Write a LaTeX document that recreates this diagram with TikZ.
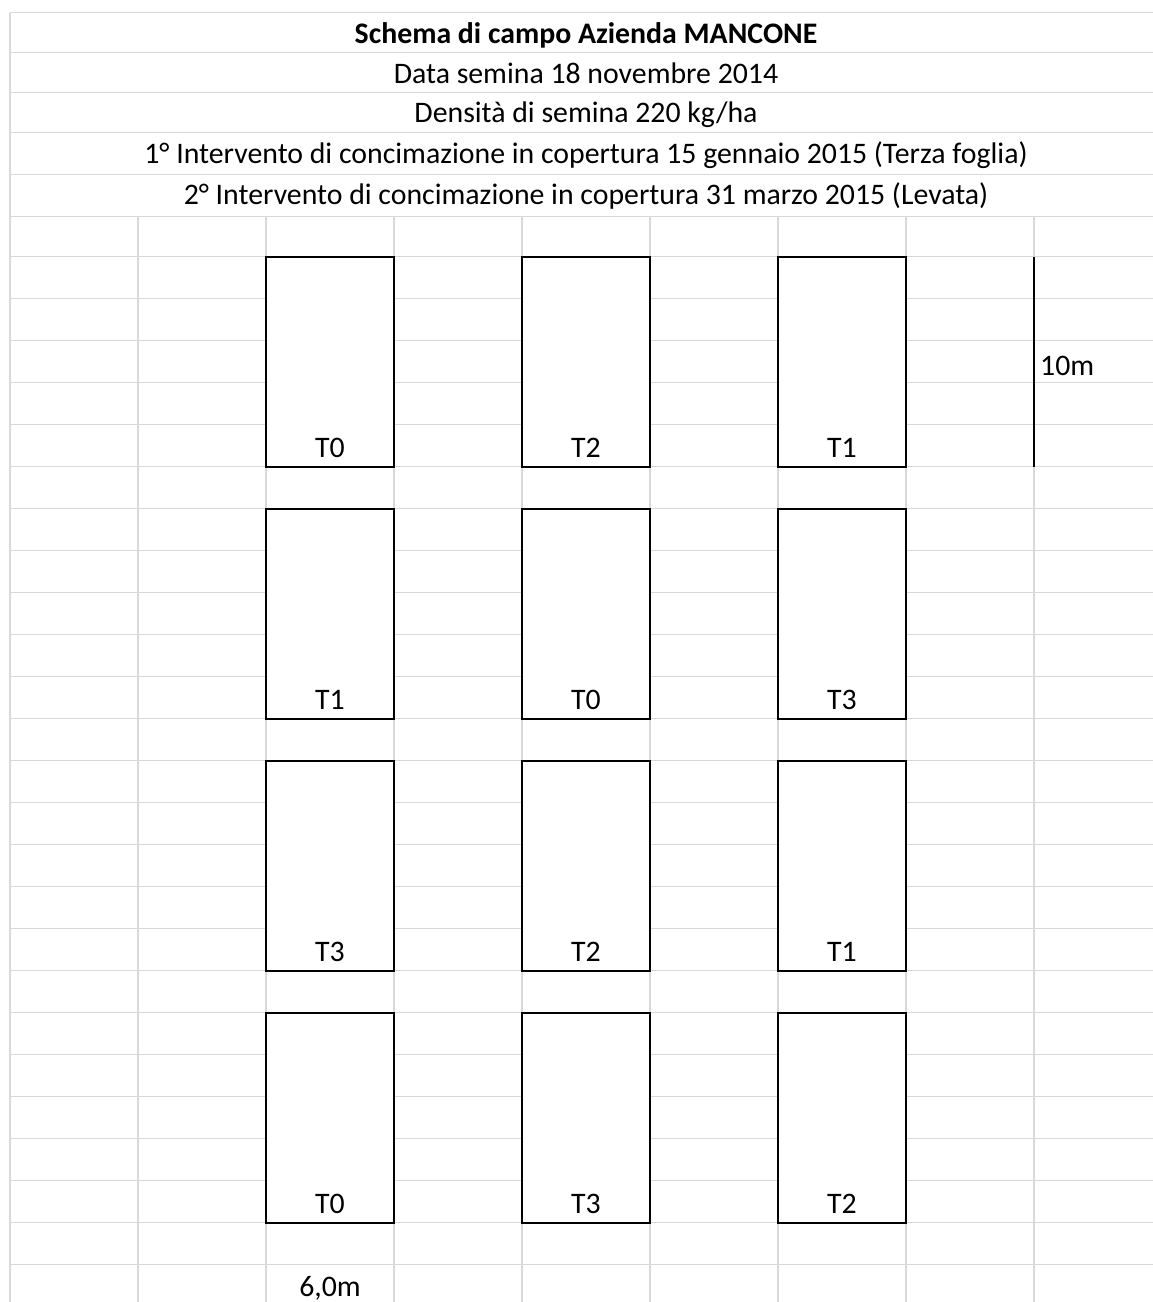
\documentclass[tikz,border=0pt]{standalone}
\usepackage{fontspec}
\setmainfont{Carlito}
\usetikzlibrary{positioning}
\newcommand{\cellfont}{\fontsize{29.8}{36}\selectfont}
\tikzset{
plot/.style={
	rectangle,
	minimum width=128pt,
	minimum height=210pt,
	inner sep=0pt,
	outer sep=0pt,
	draw=black,
	line width=2pt,
	fill=white
},
tag/.style={
	anchor=base,
	inner sep=0pt,
	font=\cellfont
},
grid/.style={
	draw=black!15,
	line width=1.3pt
},
measure/.style={
	draw=black,
	line width=2pt
}
}

\begin{document}
\begin{tikzpicture}[x=1pt, y=-1pt]
\useasboundingbox (0,0) rectangle (1153,1302);
% ===== Sheet grid =====
\foreach \y in {12.5,52.5,92.5,132.5,174.3,216.7}
  \draw[grid] (10,\y) -- (1153,\y);
\foreach \k in {0,...,24}
  \draw[grid] (10,{256.7+42*\k}) -- (1153,{256.7+42*\k});
\foreach \x in {138,266,...,1034}
  \draw[grid] (\x,216.7) -- (\x,1302);
\draw[grid] (10,12.5) -- (10,1302);

% ===== Header rows (merged cells) =====
\node (title) [tag, font=\cellfont\bfseries] at (586,43.3)  {Schema di campo Azienda MANCONE};
\node (sowd)  [tag]                          at (586,83.3)  {Data semina 18 novembre 2014};
\node (dens)  [tag]                          at (586,122.9) {Densità di semina 220 kg/ha};
\node (fert1) [tag]                          at (586,163.5) {1° Intervento di concimazione in copertura 15 gennaio 2015 (Terza foglia)};
\node (fert2) [tag]                          at (586,204)   {2° Intervento di concimazione in copertura 31 marzo 2015 (Levata)};

% ===== Plots, row by row =====
\node (p11) [plot] at (330,361.7)  {};
\node (p12) [plot] at (586,361.7)  {};
\node (p13) [plot] at (842,361.7)  {};
\node (p21) [plot] at (330,613.7)  {};
\node (p22) [plot] at (586,613.7)  {};
\node (p23) [plot] at (842,613.7)  {};
\node (p31) [plot] at (330,865.7)  {};
\node (p32) [plot] at (586,865.7)  {};
\node (p33) [plot] at (842,865.7)  {};
\node (p41) [plot] at (330,1117.7) {};
\node (p42) [plot] at (586,1117.7) {};
\node (p43) [plot] at (842,1117.7) {};
% treatments, in the bottom cell of each plot
\node (t11) [tag, above=9.5pt of p11.south, anchor=base] {T0};
\node (t12) [tag, above=9.5pt of p12.south, anchor=base] {T2};
\node (t13) [tag, above=9.5pt of p13.south, anchor=base] {T1};
\node (t21) [tag, above=9.5pt of p21.south, anchor=base] {T1};
\node (t22) [tag, above=9.5pt of p22.south, anchor=base] {T0};
\node (t23) [tag, above=9.5pt of p23.south, anchor=base] {T3};
\node (t31) [tag, above=9.5pt of p31.south, anchor=base] {T3};
\node (t32) [tag, above=9.5pt of p32.south, anchor=base] {T2};
\node (t33) [tag, above=9.5pt of p33.south, anchor=base] {T1};
\node (t41) [tag, above=9.5pt of p41.south, anchor=base] {T0};
\node (t42) [tag, above=9.5pt of p42.south, anchor=base] {T3};
\node (t43) [tag, above=9.5pt of p43.south, anchor=base] {T2};

% ===== Plot size =====
\coordinate (mtop) at (1034,256.7);
\coordinate (mbot) at (1034,466.7);
\draw[measure] (mtop) -- (mbot);
\node (mlen) [tag, anchor=base west] at (1040,375)  {10m};
\node (wlen) [tag]                   at (330,1296)  {6,0m};

\end{tikzpicture}
\end{document}
